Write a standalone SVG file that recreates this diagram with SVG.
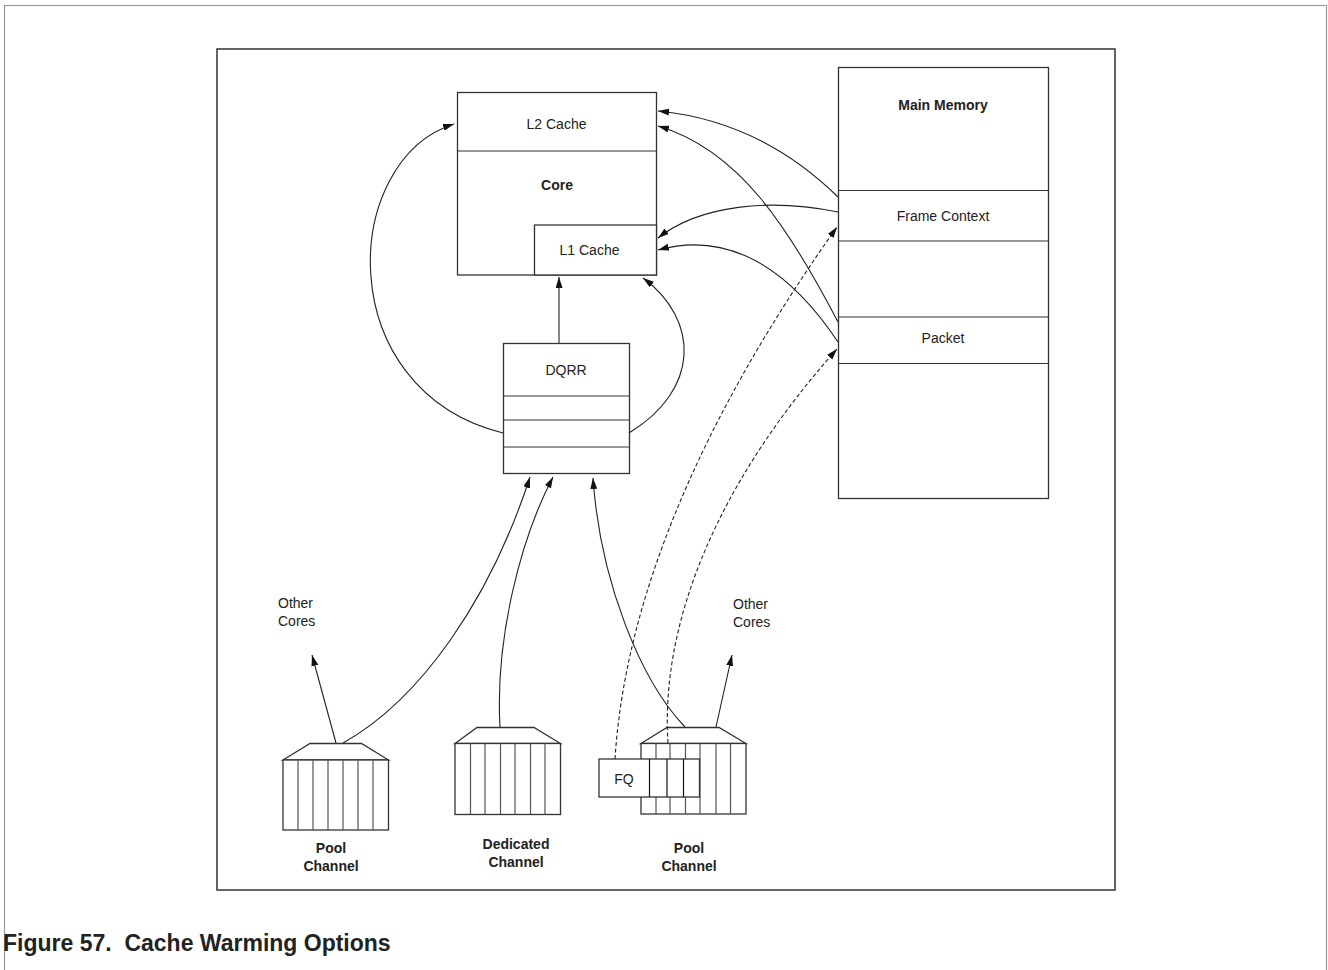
<svg xmlns="http://www.w3.org/2000/svg" width="1328" height="970" viewBox="0 0 1328 970">
<style>
text{font-family:"Liberation Sans",Arial,sans-serif;font-size:14px;fill:#222}
.b{font-weight:bold}
.c{text-anchor:middle}
.box{fill:#fff;stroke:#333;stroke-width:1.3}
.ln{fill:none;stroke:#333;stroke-width:1.2}
.cv{fill:none;stroke:#555;stroke-width:1.2}
.fv{fill:none;stroke:#111;stroke-width:1.2}
.con{fill:none;stroke:#222;stroke-width:1.1}
.dash{fill:none;stroke:#222;stroke-width:1.1;stroke-dasharray:4,2.5}
</style>
<defs>
<marker id="ah" markerUnits="userSpaceOnUse" markerWidth="12" markerHeight="8" refX="11" refY="3.5" orient="auto">
<path d="M0,0 L11,3.5 L0,7 z" fill="#111"/>
</marker>
</defs>
<rect x="0" y="0" width="1328" height="970" fill="#fff"/>
<rect x="4.5" y="5.5" width="1322" height="1000" fill="none" stroke="#999" stroke-width="1.2"/>
<rect x="217" y="49" width="898" height="841" fill="none" stroke="#333" stroke-width="1.5"/>

<g id="core">
<rect class="box" x="457.5" y="92.5" width="199" height="182.5"/>
<line class="ln" x1="457.5" y1="151" x2="656.5" y2="151"/>
<rect class="box" x="534.5" y="225" width="122" height="50"/>
<text class="c" x="556.5" y="129">L2 Cache</text>
<text class="c b" x="557" y="190">Core</text>
<text class="c" x="589.5" y="255">L1 Cache</text>
</g>

<g id="dqrr">
<rect class="box" x="503.5" y="343.5" width="126" height="130"/>
<line class="ln" x1="503.5" y1="396" x2="629.5" y2="396"/>
<line class="ln" x1="503.5" y1="420" x2="629.5" y2="420"/>
<line class="ln" x1="503.5" y1="447" x2="629.5" y2="447"/>
<text class="c" x="566" y="375">DQRR</text>
</g>

<g id="main-memory">
<rect class="box" x="838.5" y="67.5" width="210" height="431"/>
<line class="ln" x1="838.5" y1="190.5" x2="1048.5" y2="190.5"/>
<line class="ln" x1="838.5" y1="241" x2="1048.5" y2="241"/>
<line class="ln" x1="838.5" y1="317" x2="1048.5" y2="317"/>
<line class="ln" x1="838.5" y1="363.5" x2="1048.5" y2="363.5"/>
<text class="c b" x="943" y="110">Main Memory</text>
<text class="c" x="943" y="221">Frame Context</text>
<text class="c" x="943" y="343">Packet</text>
</g>

<g id="pool-channel-1">
<path class="box" d="M283,760 L310,743.5 L361.5,743.5 L388.5,760 Z"/>
<rect class="box" x="283" y="760" width="105.5" height="70"/>
<path class="cv" d="M298,760V830M313,760V830M328,760V830M343,760V830M358,760V830M373,760V830"/>
<text class="c b" x="331" y="853">Pool</text>
<text class="c b" x="331" y="871">Channel</text>
</g>

<g id="dedicated-channel">
<path class="box" d="M455,743.5 L477,727.5 L534,727.5 L560.5,743.5 Z"/>
<rect class="box" x="455" y="743.5" width="105.5" height="71"/>
<path class="cv" d="M470.5,743.5V814.5M485,743.5V814.5M500.5,743.5V814.5M515,743.5V814.5M530.5,743.5V814.5M545,743.5V814.5"/>
<text class="c b" x="516" y="849">Dedicated</text>
<text class="c b" x="516" y="867">Channel</text>
</g>

<g id="pool-channel-2">
<path class="box" d="M641,743.5 L667,727.5 L719,727.5 L746,743.5 Z"/>
<rect class="box" x="641" y="743.5" width="105" height="70.5"/>
<path class="cv" d="M656,743.5V814M670,743.5V814M685.5,743.5V814M700,743.5V814M716,743.5V814M730.5,743.5V814"/>
<text class="c b" x="689" y="853">Pool</text>
<text class="c b" x="689" y="871">Channel</text>
</g>

<g id="fq">
<rect class="box" x="599" y="759" width="100.5" height="38"/>
<path class="fv" d="M649.5,759V797M667,759V797M683.5,759V797"/>
<text class="c" x="624" y="784">FQ</text>
</g>

<g id="other-cores-left">
<text x="278" y="608">Other</text>
<text x="278" y="626">Cores</text>
</g>
<g id="other-cores-right">
<text x="733" y="609">Other</text>
<text x="733" y="627">Cores</text>
</g>

<g id="connectors">
<path class="con" d="M838,197 C790,150 730,118 658,111" marker-end="url(#ah)"/>
<path class="con" d="M838,322 C790,230 740,150 658,126" marker-end="url(#ah)"/>
<path class="con" d="M838,212 C770,198 700,205 658,238" marker-end="url(#ah)"/>
<path class="con" d="M838,342 C790,270 730,230 658,250" marker-end="url(#ah)"/>
<path class="con" d="M503,433 C330,390 340,160 454,124" marker-end="url(#ah)"/>
<path class="con" d="M629,433 C700,390 700,320 643,278" marker-end="url(#ah)"/>
<path class="con" d="M559,343 L559,277" marker-end="url(#ah)"/>
<path class="con" d="M336,743 L312,655" marker-end="url(#ah)"/>
<path class="con" d="M343,743 C420,700 490,600 530,477" marker-end="url(#ah)"/>
<path class="con" d="M500,727 C495,640 520,540 553,477" marker-end="url(#ah)"/>
<path class="con" d="M685,727 C640,680 600,580 593,478" marker-end="url(#ah)"/>
<path class="con" d="M716,727 L732,655" marker-end="url(#ah)"/>
<path class="dash" d="M615,759 C625,600 700,420 837,227" marker-end="url(#ah)"/>
<path class="dash" d="M668,743 C660,620 720,480 837,349" marker-end="url(#ah)"/>
</g>

<text class="b" x="3" y="951" style="font-size:23px">Figure 57.&#160; Cache Warming Options</text>
</svg>
